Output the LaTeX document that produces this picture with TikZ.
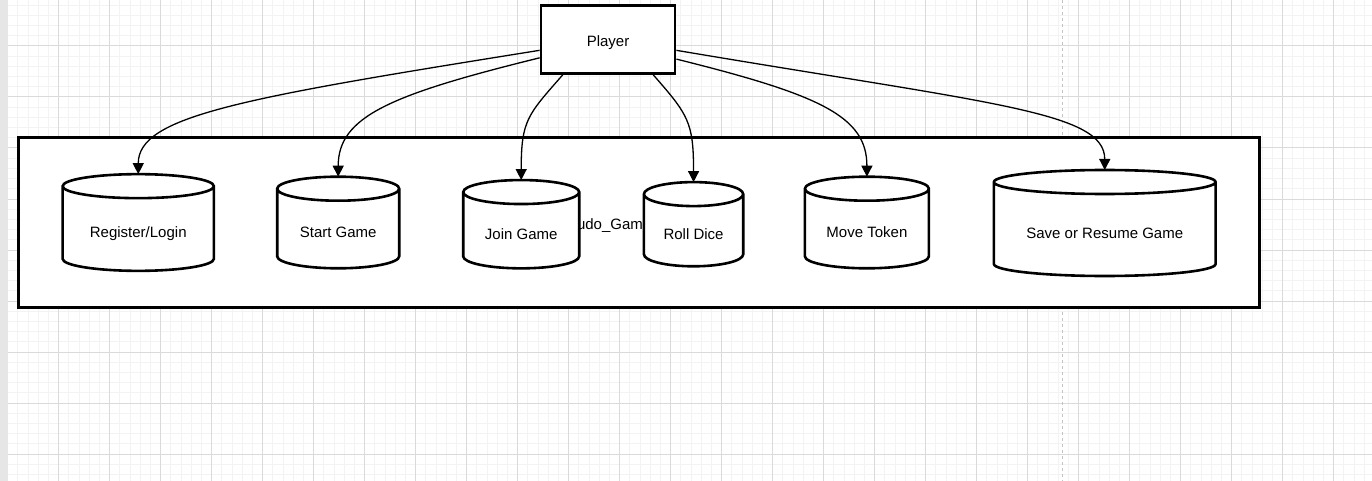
\documentclass[tikz,border=0pt]{standalone}
\usepackage{fontspec}
\setmainfont{Liberation Sans}
\usetikzlibrary{arrows.meta,positioning,calc,backgrounds}
\pgfdeclarelayer{canvas}
\pgfsetlayers{canvas,background,main}
\definecolor{ink}{HTML}{000000}
\definecolor{gridminor}{HTML}{F3F3F3}
\definecolor{gridmajor}{HTML}{DADADA}
\definecolor{pageline}{HTML}{C4C4C4}
\definecolor{ruler}{HTML}{E6E6E6}
\tikzset{
 actor/.style={draw=ink,fill=white,line width=2.8pt,minimum width=134pt,minimum height=68pt},
 frame/.style={draw=ink,fill=white,line width=3pt,minimum width=1241pt,minimum height=169pt},
 store/.style={minimum width=#1,text height=30pt,text depth=0pt,inner sep=0pt,outer sep=0pt},
 cyl/.style={draw=ink,fill=white,line width=2.6pt},
 flow/.style={-{Triangle[length=11pt,width=11pt]},draw=ink,line width=1.3pt},
 minor/.style={draw=gridminor,line width=1pt},
 major/.style={draw=gridmajor,line width=1pt}
}

\begin{document}
\begin{tikzpicture}[x=1pt,y=1pt,font=\fontsize{15}{18}\selectfont,node distance=64pt]
  \useasboundingbox (0,0) rectangle (1372,-481);

  \begin{pgfonlayer}{canvas}
    \fill[white] (0,0) rectangle (1372,-481);
    \foreach \i in {0,...,134} \draw[minor] (7.7+10.2*\i,0) -- ++(0,-481);
    \foreach \j in {0,...,48} \draw[minor] (8,5-10.2*\j) -- ++(1364,0);
    \foreach \i in {0,...,26} \draw[major] (7.7+51*\i,0) -- ++(0,-481);
    \foreach \j in {1,...,9} \draw[major] (8,5-51*\j) -- ++(1364,0);
    \draw[pageline,line width=1.3pt,dash pattern=on 3pt off 3pt] (1062.7,0) -- (1062.7,-481);
    \fill[ruler] (0,0) rectangle (8,-481);
    \node[frame] (game) at (638.5,-222.5) {};
    \node[anchor=base] (gamename) at ([xshift=-28.5pt,yshift=-6.5pt]game.center) {Ludo\_Game};
  \end{pgfonlayer}

  \node[actor,text height=14pt,text depth=0pt] (player) at (608,-39.5) {Player};

  \node[store=151.3pt,minimum height=96.7pt,right=46.1pt of game.west] (reg) {Register/Login};
  \node[store=122pt,minimum height=91.6pt,right=63.3pt of reg] (start) {Start Game};
  \node[store=116pt,minimum height=88.3pt,right=64pt of start,yshift=-1.7pt] (join) {Join Game};
  \node[store=99.3pt,minimum height=84.2pt,right=64.7pt of join] (roll) {Roll Dice};
  \node[store=124pt,minimum height=91.6pt,right=61.7pt of roll,yshift=1.7pt] (move) {Move Token};
  \node[store=221.7pt,minimum height=106pt,right=65pt of move,yshift=-0.5pt] (save) {Save or Resume Game};

  \begin{scope}[on background layer]
    \foreach \c in {reg,start,join,roll,move,save}{
      \filldraw[cyl] let \p1=(\c.north west), \p2=(\c.south east), \n1={(\x2-\x1)/2} in
        (\x1,\y1-12pt) -- (\x1,\y2+12pt) arc[start angle=180,end angle=360,x radius=\n1,y radius=12pt]
        -- (\x2,\y1-12pt) arc[start angle=0,end angle=180,x radius=\n1,y radius=12pt] -- cycle
        (\x1,\y1-12pt) arc[start angle=180,end angle=360,x radius=\n1,y radius=12pt];
    }
  \end{scope}

  \draw[flow] (player.189) .. controls +(-300,-48) and +(0,58) .. (reg.north);
  \draw[flow] (player.195) .. controls +(-150,-37) and +(0,60) .. (start.north);
  \draw[flow] (player.218.7) .. controls +(-35,-40) and +(0,60) .. (join.north);
  \draw[flow] (player.322.5) .. controls +(35,-40) and +(0,60) .. (roll.north);
  \draw[flow] (player.344.3) .. controls +(145,-36) and +(0,60) .. (move.north);
  \draw[flow] (player.351) .. controls +(320,-54) and +(0,58) .. (save.north);
\end{tikzpicture}
\end{document}
